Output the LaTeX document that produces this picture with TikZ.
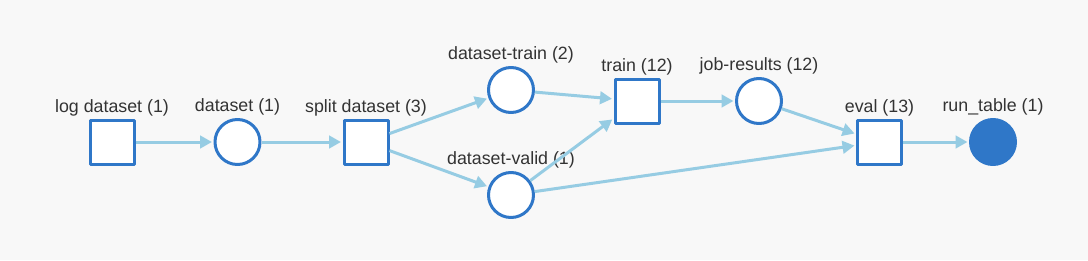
\documentclass[tikz,border=0pt]{standalone}
\usepackage{fontspec}
\setmainfont{Liberation Sans}
\usetikzlibrary{arrows.meta}

\definecolor{bgcol}{HTML}{F8F8F8}
\definecolor{nodeblue}{HTML}{2F77C8}
\definecolor{edgeblue}{HTML}{96CCE3}
\definecolor{txtcol}{HTML}{333333}

\tikzset{
	lbl/.style={text=txtcol, font=\fontsize{17.8}{20}\selectfont, inner sep=2pt, label distance=0.5pt},
	jobbox/.style={draw=nodeblue, fill=white, line width=3pt, minimum size=44pt, inner sep=0pt},
	artcirc/.style={circle, draw=nodeblue, fill=white, line width=3pt, minimum size=45pt, inner sep=0pt},
	flow/.style={draw=edgeblue, line width=3pt, shorten >=1.5pt, -{Triangle[length=12pt,width=12.5pt]}}
}

\begin{document}
\begin{tikzpicture}[line join=round,x=1pt,y=-1pt]
				\useasboundingbox (0,0) rectangle (1088,260);
				\fill[bgcol] (0,0) rectangle (1088,260);
				
				% Jobs
				\node[jobbox, label={[lbl]above:log dataset (1)}] (logds) at (112,142) {};
				\node[jobbox, label={[lbl]above:split dataset (3)}] (splitds) at (366,142) {};
				\node[jobbox, label={[lbl]above:train (12)}] (train) at (637,101) {};
				\node[jobbox, label={[lbl]above:eval (13)}] (eval) at (879.5,142) {};
				
				% Artifacts
				\node[artcirc, label={[lbl]above:dataset (1)}] (ds) at (237.5,142) {};
				\node[artcirc, label={[lbl]above:dataset-train (2)}] (dstrain) at (511,90) {};
				\node[artcirc, label={[lbl]above:dataset-valid (1)}] (dsvalid) at (511,195) {};
				\node[artcirc, label={[lbl]above:job-results (12)}] (jobres) at (759,101) {};
				\node[artcirc, fill=nodeblue, label={[lbl]above:run\_table (1)}] (runtbl) at (993,142) {};
				
				%% Edges
				\draw[flow] (logds) -- (ds);
				\draw[flow] (ds) -- (splitds);
				\draw[flow] (splitds) -- (dstrain);
				\draw[flow] (splitds) -- (dsvalid);
				\draw[flow] (dstrain) -- (train);
				\draw[flow] (dsvalid) -- (train);
				\draw[flow] (train) -- (jobres);
				\draw[flow] (jobres) -- (eval);
				\draw[flow] (dsvalid) -- (eval);
				\draw[flow] (eval) -- (runtbl);
			\end{tikzpicture}
\end{document}
